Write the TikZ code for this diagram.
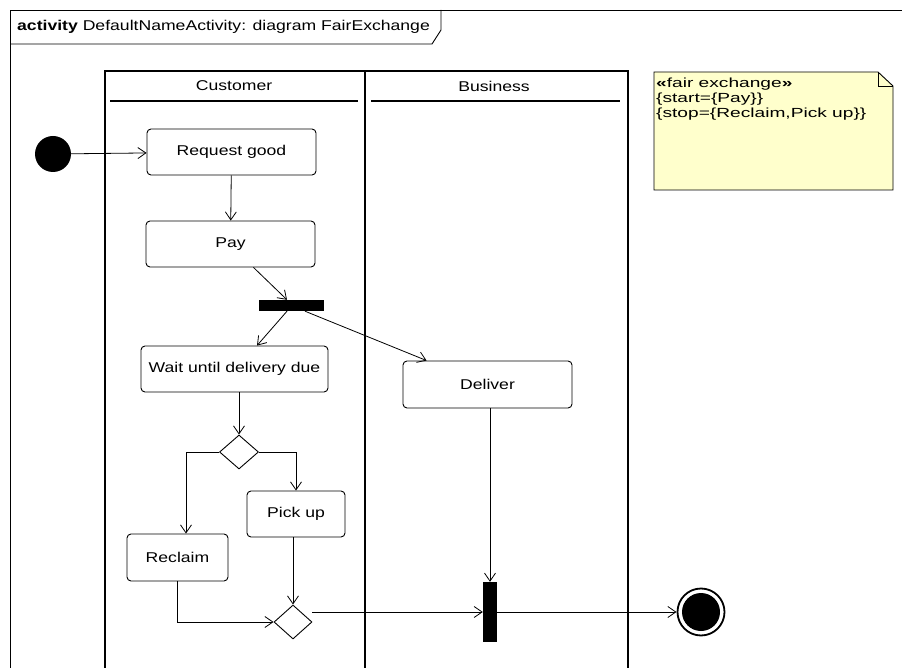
\documentclass[tikz,border=0pt]{standalone}
\usepackage{fontspec}
\setmainfont{Liberation Sans}[FakeStretch=1.24]
\newfontfamily\notefont{Liberation Sans}[FakeStretch=1.45]
\usetikzlibrary{arrows.meta,shapes.geometric,calc}
\definecolor{noteyellow}{RGB}{255,255,204}
\begin{document}
\begin{tikzpicture}[x=1pt,y=-1pt,
  every node/.style={font=\fontsize{14.2}{15}\selectfont},
  action/.style={draw,rounded corners=4pt,line width=0.9pt,inner sep=0pt},
  bar/.style={fill=black,draw=none,inner sep=0pt},
  choice/.style={draw,diamond,line width=0.9pt,inner sep=0pt,aspect=1.15},
  flow/.style={line width=0.8pt,-{Straight Barb[length=8pt,width=11pt,line width=0.8pt]}},
  lane/.style={line width=2.6pt},
  frameline/.style={line width=0.9pt}]
\useasboundingbox (0,0) rectangle (902,668);
\fill[white] (0,0) rectangle (902,668);

% diagram frame with name tab
\draw[frameline] (10,668) -- (10,10) -- (902,10);
\draw[frameline] (10,44) -- (432,44) -- (441,30) -- (441,10);
\node[anchor=west,inner sep=0pt] (title) at (17,27)
  {\textbf{activity} DefaultNameActivity: diagram FairExchange};

% swimlanes
\draw[lane] (105,668) -- (105,71) -- (628,71) -- (628,668);
\draw[lane] (365,71) -- (365,668);
\draw[lane] (110,101) -- (358,101);
\draw[lane] (371,101) -- (620,101);
\node (customer) at (234,86) {Customer};
\node (business) at (494,86) {Business};

% note
\draw[line width=0.9pt,fill=noteyellow]
  (654,72) -- (878,72) -- (893,86) -- (893,190) -- (654,190) -- cycle;
\draw[line width=0.9pt] (878,72) -- (878,86) -- (893,86);
\node[anchor=north west,align=left,inner sep=0pt,
  font=\notefont\fontsize{13.2}{15}\selectfont] (note) at (656,77.5)
  {\textbf{«}fair exchange\textbf{»}\\{\{}start={\{}Pay{\}}{\}}\\{\{}stop={\{}Reclaim,Pick up{\}}{\}}};

% nodes
\node[circle,fill=black,minimum size=36pt,inner sep=0pt] (init) at (53,154) {};
\node[action,minimum width=169pt,minimum height=46pt] (req) at (231.5,152) {Request good};
\node[action,minimum width=169pt,minimum height=46pt] (pay) at (230.5,244) {Pay};
\node[bar,minimum width=65pt,minimum height=11pt] (fork) at (291.5,305.5) {};
\node[action,minimum width=187pt,minimum height=46pt] (wait) at (234.5,369) {Wait until delivery due};
\node[action,minimum width=169pt,minimum height=47pt] (deliver) at (487.5,384.5) {Deliver};
\node[choice,minimum width=39pt,minimum height=34pt] (dec) at (239,452) {};
\node[action,minimum width=101pt,minimum height=47pt] (reclaim) at (177.5,557.5) {Reclaim};
\node[action,minimum width=98pt,minimum height=46pt] (pickup) at (296,514) {Pick up};
\node[choice,minimum width=38pt,minimum height=34pt] (merge) at (293,622) {};
\node[bar,minimum width=14pt,minimum height=60pt] (join) at (490,612) {};
\node[circle,fill=black,minimum size=38pt,inner sep=0pt] (final) at (701,612) {};
\draw[line width=1.8pt] (final.center) circle[radius=23.5pt];
\coordinate (finalin) at ($(final.center)+(-24.5,0)$);

% control flows
\draw[flow] (init) -- (req);
\draw[flow] (req) -- (pay);
\draw[flow] ($(pay.south)+(23,0)$) -- ($(fork.north)+(-4.5,0)$);
\draw[flow] ($(fork.south)+(-4.5,0)$) -- ($(wait.north)+(22.5,0)$);
\draw[flow] ($(fork.south)+(13.5,0)$) -- ($(deliver.north west)+(24,0)$);
\draw[flow] (wait.south -| dec.north) -- (dec.north);
\draw[flow] (dec.west) -| ($(reclaim.north)+(8.5,0)$);
\draw[flow] (dec.east) -| (pickup.north);
\draw[flow] (pickup.south -| merge.north) -- (merge.north);
\draw[flow] (reclaim.south) |- (merge.west);
\draw[flow] (merge.east |- join.west) -- (join.west);
\draw[flow] (deliver.south -| join.north) -- (join.north);
\draw[flow] (join.east) -- (finalin);
\end{tikzpicture}
\end{document}
